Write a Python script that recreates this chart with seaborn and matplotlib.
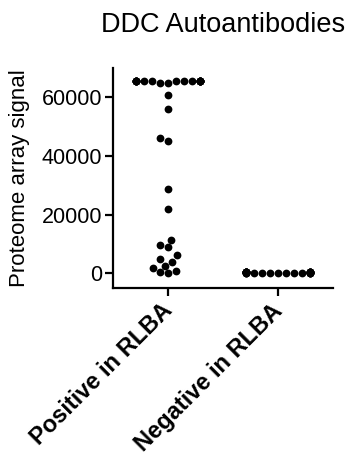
import numpy as np
import pandas as pd
import seaborn as sns
import matplotlib.pyplot as plt
from matplotlib.transforms import ScaledTranslation

sns.set_style("ticks")
plt.rcParams['font.family'] = ['Liberation Sans', 'DejaVu Sans']
plt.rcParams['text.color'] = 'black'
plt.rcParams['axes.labelcolor'] = 'black'
plt.rcParams['xtick.color'] = 'black'
plt.rcParams['ytick.color'] = 'black'

groups = ["Positive in RLBA", "Negative in RLBA"]

# positive group: saturated signals plus the spread below
positive = [65535, 65535, 65535, 65535, 65535, 65535, 65535, 65535, 65535, 65535,
            65535, 65535, 65535, 65535, 65535, 65535, 65535, 65535, 64900, 64900,
            60800, 56100, 46000, 45000, 28800, 22000, 11500, 9800, 9000, 6100,
            4800, 4000, 2550, 1800, 700, 330, 110]

# negative group: all close to zero
negative = [120, 250, 310, 180, 420, 380, 260, 150, 500, 330, 210, 290, 460, 170,
            350, 240, 390, 280, 140, 520, 300, 220, 410, 190, 360, 270, 230, 450]

df = pd.DataFrame({
    "group": [groups[0]] * len(positive) + [groups[1]] * len(negative),
    "signal": positive + negative,
})

fig = plt.figure(figsize=(3.52, 4.55), dpi=100)
ax = fig.add_axes([113/352, 1 - 288/455, 220/352, 220/455])

sns.swarmplot(data=df, x="group", y="signal", order=groups, color="black",
              size=5.6, linewidth=0, warn_thresh=1.0, ax=ax)

ax.set_xlim(-0.5, 1.5)
ax.set_ylim(-5000, 70000)
ax.set_yticks([0, 20000, 40000, 60000])
ax.set_yticklabels(["0", "20000", "40000", "60000"], fontsize=15.5)
ax.set_xticks([0, 1])
ax.set_xticklabels(groups, fontsize=17, fontweight="bold", rotation=45,
                   ha="right", va="top", rotation_mode="anchor")
ax.set_xlabel("")
ax.set_ylabel("Proteome array signal", fontsize=16, labelpad=8)
ax.set_title("DDC Autoantibodies", fontsize=19.5, pad=26)

for s in ["top", "right"]:
    ax.spines[s].set_visible(False)
for s in ["left", "bottom"]:
    ax.spines[s].set_linewidth(1.6)
    ax.spines[s].set_color("black")
ax.tick_params(axis="both", length=6, width=1.6, color="black", pad=2)

# nudge the slanted labels left a little
shift = ScaledTranslation(-0.07, 0, fig.dpi_scale_trans)
for lab in ax.get_xticklabels():
    lab.set_transform(lab.get_transform() + shift)

# seaborn lays out the swarm at draw time; do that once, then squeeze the
# overflow into a narrower gutter like the original figure
fig.canvas.draw()
half = 0.29
for coll in ax.collections:
    offs = np.array(coll.get_offsets())
    if len(offs):
        c = np.round(offs[:, 0])
        offs[:, 0] = np.clip(offs[:, 0], c - half, c + half)
        if "draw" in coll.__dict__:
            del coll.draw
        coll.set_offsets(offs)

fig.savefig("out.png", dpi=100)
